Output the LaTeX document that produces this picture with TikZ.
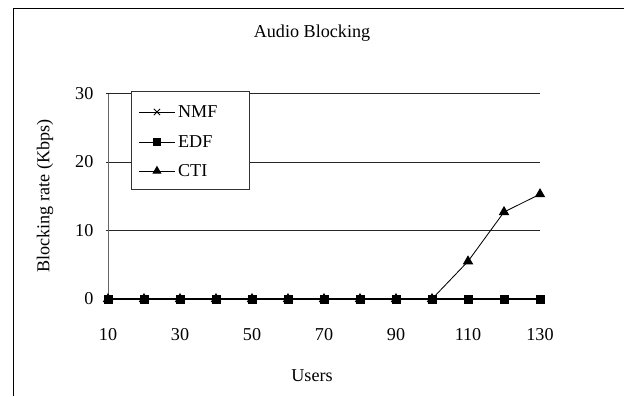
\documentclass[tikz,border=0pt]{standalone}
\usepackage{fontspec}
\setmainfont{Liberation Serif}
\usetikzlibrary{plotmarks}

\begin{document}
\begin{tikzpicture}[x=0.9mm,y=1.7125mm,font=\fontsize{12.9}{15}\selectfont]
\useasboundingbox (-20,-14.16) rectangle (153.33,43.65);
\draw[line width=0.7pt] (-16.39,-14.16)--(-16.39,42.48)--(153.33,42.48);
\node (title) at (66.67,38.83) {Audio Blocking};
% grid and axis
\foreach \v in {10,20,30} \draw[black!85,line width=0.45pt] (9.4,\v)--(130,\v);
\draw[black!60,line width=0.45pt] (10,0)--(10,30);
\foreach \v in {0,10,20,30} \node[anchor=east,inner sep=0pt] (ylab\v) at (6,\v) {\v};
\foreach \u in {10,30,...,130} \node (xlab\u) at (\u,-5.26) {\u};
\node (xtitle) at (66.67,-11.24) {Users};
\node[rotate=90] (ytitle) at (-7.5,15.04) {Blocking rate (Kbps)};
% series
\draw[line width=0.6pt] plot[mark=x,mark size=0.11cm] coordinates {(10,0) (20,0) (30,0) (40,0) (50,0) (60,0) (70,0) (80,0) (90,0) (100,0) (110,0) (120,0) (130,0)};
\draw[line width=0.6pt] plot[mark=triangle*,mark size=0.13cm] coordinates {(10,0) (20,0) (30,0) (40,0) (50,0) (60,0) (70,0) (80,0) (90,0) (100,0) (110,5.5) (120,12.7) (130,15.3)};
\draw[line width=1.1pt] plot[mark=square*,mark size=0.1cm,mark options={line width=0.4pt}] coordinates {(10,0) (20,0) (30,0) (40,0) (50,0) (60,0) (70,0) (80,0) (90,0) (100,0) (110,0) (120,0) (130,0)};
% legend
\draw[black!80,fill=white,line width=0.45pt] (16.58,16.06) rectangle (49.17,30.36);
\draw[line width=0.6pt] (18.6,27.3)--(28.6,27.3) plot[mark=x,mark size=0.11cm] coordinates {(23.6,27.3)};
\draw[line width=0.6pt] (18.6,22.92)--(28.6,22.92) plot[mark=square*,mark size=0.09cm] coordinates {(23.6,22.92)};
\draw[line width=0.6pt] (18.6,18.69)--(28.6,18.69) plot[mark=triangle*,mark size=0.11cm] coordinates {(23.6,18.69)};
\node[anchor=west,inner sep=0pt] (nmf) at (29.4,27.3) {NMF};
\node[anchor=west,inner sep=0pt] (edf) at (29.4,22.92) {EDF};
\node[anchor=west,inner sep=0pt] (cti) at (29.4,18.69) {CTI};
\end{tikzpicture}
\end{document}
